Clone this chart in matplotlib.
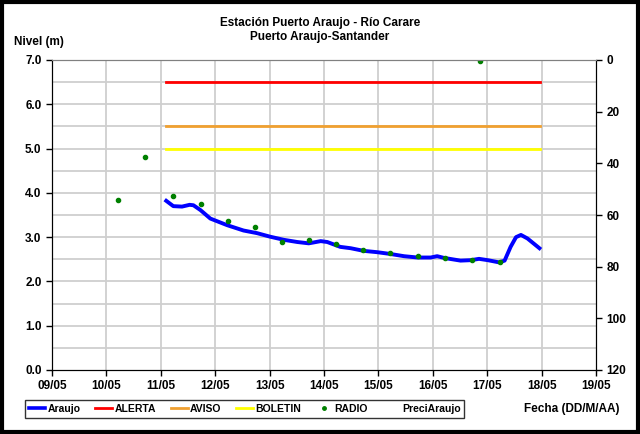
import matplotlib
matplotlib.use("Agg")
import matplotlib.pyplot as plt
from matplotlib.lines import Line2D
from matplotlib.patches import Rectangle

plt.rcParams['font.family'] = ['Liberation Sans', 'DejaVu Sans']
plt.rcParams['font.weight'] = 'bold'

# Data (x = day of May, fractional)
araujo_x = [11.10, 11.23, 11.39, 11.53, 11.60, 11.73, 11.91, 12.22, 12.52, 12.77,
            13.01, 13.26, 13.51, 13.72, 13.94, 14.06, 14.30, 14.49, 14.73, 14.98,
            15.22, 15.47, 15.72, 15.96, 16.08, 16.21, 16.51, 16.70, 16.85, 17.01,
            17.22, 17.32, 17.43, 17.53, 17.62, 17.74, 17.96]
araujo_y = [3.82, 3.70, 3.69, 3.73, 3.72, 3.61, 3.42, 3.27, 3.15, 3.09,
            3.01, 2.94, 2.89, 2.86, 2.91, 2.89, 2.78, 2.75, 2.69, 2.66,
            2.62, 2.57, 2.54, 2.54, 2.57, 2.53, 2.47, 2.48, 2.51, 2.48,
            2.43, 2.47, 2.78, 3.00, 3.05, 2.97, 2.75]

radio_x = [10.22, 10.71, 11.22, 11.73, 12.23, 12.73, 13.23, 13.73, 14.22, 14.72,
           15.22, 15.72, 15.82, 16.22, 16.72, 16.87, 17.23]
radio_y = [3.83, 4.82, 3.94, 3.74, 3.36, 3.24, 2.88, 2.94, 2.84, 2.72,
           2.64, 2.57, 7.08, 2.54, 2.48, 6.97, 2.44]

thr_x = [11.10, 17.97]
alerta = 6.5
aviso = 5.5
boletin = 5.0

day_ticks = [9, 10, 11, 12, 13, 14, 15, 16, 17, 18, 19]
day_labels = ['09/05', '10/05', '11/05', '12/05', '13/05', '14/05', '15/05',
              '16/05', '17/05', '18/05', '19/05']
left_ticks = [0, 1, 2, 3, 4, 5, 6, 7]
right_ticks = [0, 20, 40, 60, 80, 100, 120]

fig = plt.figure(figsize=(6.4, 4.34), dpi=100)
ax = fig.add_axes([52/640, 1-370/434, (596-52)/640, (370-60)/434])

# grid
for d in day_ticks[1:-1]:
    ax.axvline(d, color='#cfcfcf', lw=1.3, zorder=0)
for v in [i*0.5 for i in range(1, 14)]:
    ax.axhline(v, color='#cfcfcf', lw=1.3, zorder=0)

ax.plot(thr_x, [alerta]*2, color='#ff0000', lw=2, label='ALERTA', zorder=2)
ax.plot(thr_x, [aviso]*2, color='#f0a030', lw=2, label='AVISO', zorder=2)
ax.plot(thr_x, [boletin]*2, color='#ffff00', lw=2, label='BOLETIN', zorder=2)
ax.plot(araujo_x, araujo_y, color='#0000ff', lw=2.8, label='Araujo', zorder=3,
        solid_joinstyle='round')
ax.plot(radio_x, radio_y, linestyle='none', marker='o', ms=3.0, color='#008000',
        label='RADIO', zorder=4)

ax.set_xlim(9, 19)
ax.set_ylim(0, 7)
ax.set_xticks(day_ticks)
ax.set_xticklabels(day_labels)
ax.set_yticks(left_ticks)
ax.set_yticklabels([f'{v:.1f}' for v in left_ticks])
ax.tick_params(axis='both', labelsize=8.5, direction='out', length=4, width=1)
for lab in ax.get_xticklabels() + ax.get_yticklabels():
    lab.set_fontweight('bold')

ax.spines['top'].set_color('#808080')
ax.spines['left'].set_color('black')
ax.spines['bottom'].set_color('black')

ax2 = ax.twinx()
ax2.set_ylim(120, 0)
ax2.set_yticks(right_ticks)
ax2.tick_params(axis='y', labelsize=8.5, direction='out', length=4, width=1)
for lab in ax2.get_yticklabels():
    lab.set_fontweight('bold')
ax2.spines['top'].set_color('#808080')
ax2.spines['right'].set_color('black')

fig.text(0.5, 1-23/434, 'Estación Puerto Araujo - Río Carare', ha='center', va='center',
         fontsize=8.5, fontweight='bold')
fig.text(0.5, 1-37/434, 'Puerto Araujo-Santander', ha='center', va='center',
         fontsize=8.5, fontweight='bold')
fig.text(14/640, 1-42/434, 'Nivel (m)', ha='left', va='center', fontsize=8.5,
         fontweight='bold')
fig.text(620/640, 1-409/434, 'Fecha (DD/M/AA)', ha='right', va='center', fontsize=8.5,
         fontweight='bold')

handles = [
    Line2D([], [], color='#0000ff', lw=2.6),
    Line2D([], [], color='#ff0000', lw=2),
    Line2D([], [], color='#f0a030', lw=2),
    Line2D([], [], color='#ffff00', lw=2),
    Line2D([], [], color='#008000', linestyle='none', marker='o', ms=2.5),
    Line2D([], [], linestyle='none'),
]
labels = ['Araujo', 'ALERTA', 'AVISO', 'BOLETIN', 'RADIO', 'PreciAraujo']
leg = fig.legend(handles, labels, loc='center left', bbox_to_anchor=(25/640, 1-409/434),
                 ncol=6, fontsize=7.5, frameon=True, fancybox=False, edgecolor='black',
                 handlelength=1.6, handletextpad=0.2, columnspacing=1.45,
                 borderpad=0.35, borderaxespad=0)
leg.get_frame().set_linewidth(1)
for t in leg.get_texts():
    t.set_fontweight('bold')

fig.patches.append(Rectangle((0.003, 0.004), 0.994, 0.992, transform=fig.transFigure,
                             fill=False, edgecolor='black', lw=3))

fig.savefig('out.png', dpi=100)
